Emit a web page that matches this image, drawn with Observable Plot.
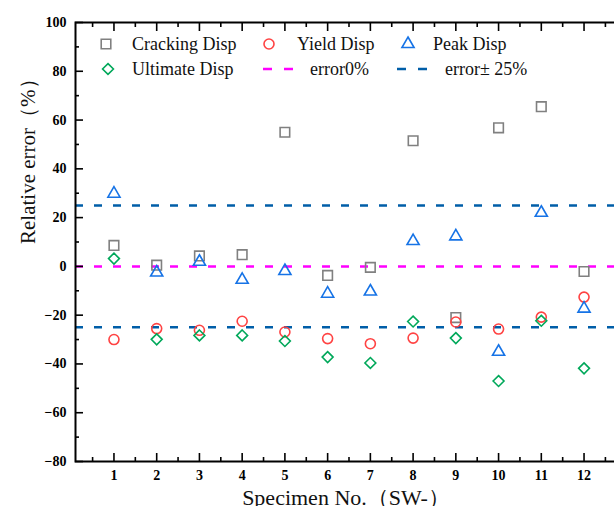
<!DOCTYPE html>
<html><head><meta charset="utf-8">
<script src="https://cdn.jsdelivr.net/npm/d3@7"></script>
<script src="https://cdn.jsdelivr.net/npm/@observablehq/plot@0.6"></script>
<style>
body{margin:0;background:#fff;overflow:hidden;}
#wrap{position:relative;width:614px;height:506px;overflow:hidden;background:#fff;}
#wrap svg{max-width:none !important;}
#legend{position:absolute;left:0;top:0;}
</style></head>
<body><div id="wrap"></div>
<script>
// ---- data ----
const specimens = [1,2,3,4,5,6,7,8,9,10,11,12];
const crackingDisp = [8.6,0.5,4.3,4.8,55,-3.7,-0.4,51.5,-21,56.8,65.5,-2.1];
const yieldDisp    = [-30,-25.5,-26.2,-22.5,-26.9,-29.6,-31.7,-29.4,-22.8,-25.7,-20.8,-12.6];
const peakDisp     = [29.8,-2.5,1.9,-5.5,-1.9,-11.2,-10.3,10.4,12.3,-35,22,-17.3];
const ultimateDisp = [3.2,-29.9,-28.3,-28.3,-30.6,-37.2,-39.6,-22.6,-29.4,-47,-22.3,-41.8];
const seriesNames  = ["Cracking Disp","Yield Disp","Peak Disp","Ultimate Disp"];
const zeroLine = [0];
const bandLines = [25,-25];
const lineNames = ["error0%","error\u00b1 25%"];
const yMajor = [-80,-60,-40,-20,0,20,40,60,80,100];
const yMinor = [-70,-50,-30,-10,10,30,50,70,90];
const xMinor = [0.5,1.5,2.5,3.5,4.5,5.5,6.5,7.5,8.5,9.5,10.5,11.5,12.5];
const xTitle = "Specimen No.\uff08SW-\uff09";
const yTitle = "Relative error\uff08%\uff09";

// ---- styles ----
const styles = {
  "Cracking Disp": {stroke:"#808080", symbol:"square",   r:5.4},
  "Yield Disp":    {stroke:"#ff4343", symbol:"circle",   r:5},
  "Peak Disp":     {stroke:"#1673e6", symbol:"triangle", r:4.5},
  "Ultimate Disp": {stroke:"#00a85a", symbol:"diamond2", r:4.9}
};
const magenta = "#ff00ff", dashBlue = "#005ea8";
const dash = "8,11";

const allSeries = [crackingDisp, yieldDisp, peakDisp, ultimateDisp];
const table = [];
seriesNames.forEach((name, si) => specimens.forEach((s, i) => table.push({series:name, x:s, y:allSeries[si][i]})));

const tickStyle = {stroke:"#000", strokeWidth:1.6, tickFormat:() => "", label:null};
const numFont = {fontWeight:"bold", fontSize:14, fontFamily:"Liberation Serif", fill:"#000"};

const dotMarks = seriesNames.map(name => Plot.dot(table.filter(d => d.series === name), {
  x:"x", y:"y", r:styles[name].r, symbol:styles[name].symbol,
  stroke:styles[name].stroke, strokeWidth:1.6, fill:"none"
}));

const chart = Plot.plot({
  width:625, height:506,
  marginLeft:75, marginRight:3, marginTop:22, marginBottom:45,
  style:{fontFamily:"Liberation Serif", background:"transparent", overflow:"visible", maxWidth:"none"},
  x:{domain:[0.1,12.9], axis:null},
  y:{domain:[-80,100], axis:null},
  marks:[
    Plot.ruleY(zeroLine, {y:d=>d, stroke:magenta, strokeWidth:2.5, strokeDasharray:dash}),
    Plot.ruleY(bandLines, {y:d=>d, stroke:dashBlue, strokeWidth:2.5, strokeDasharray:dash}),
    ...dotMarks,
    Plot.frame({stroke:"#000", strokeWidth:2}),
    Plot.axisY(yMajor, {anchor:"left", tickSize:-8, ...tickStyle}),
    Plot.axisY(yMinor, {anchor:"left", tickSize:-4, ...tickStyle}),
    Plot.axisY(yMajor, {anchor:"right", tickSize:-8, ...tickStyle}),
    Plot.axisY(yMinor, {anchor:"right", tickSize:-4, ...tickStyle}),
    Plot.axisX(specimens, {anchor:"bottom", tickSize:-8, ...tickStyle}),
    Plot.axisX(xMinor, {anchor:"bottom", tickSize:-4, ...tickStyle}),
    Plot.axisX(specimens, {anchor:"top", tickSize:-8, ...tickStyle}),
    Plot.axisX(xMinor, {anchor:"top", tickSize:-4, ...tickStyle}),
    Plot.axisY(yMajor, {anchor:"left", tickSize:0, tickPadding:9, label:null, ...numFont}),
    Plot.axisX(specimens, {anchor:"bottom", tickSize:0, tickPadding:9, label:null, ...numFont}),
    Plot.text([yTitle], {frameAnchor:"left", dx:-47, dy:2, rotate:-90, fontSize:21, fill:"#111", fontFamily:"Liberation Serif"}),
    Plot.text([xTitle], {frameAnchor:"bottom", dx:-3, dy:43, fontSize:22, fill:"#111", fontFamily:"Liberation Serif"})
  ]
});
document.getElementById("wrap").appendChild(chart);

// ---- legend (inside plot area) ----
const legendItems = [
  {kind:"dot", name:seriesNames[0], sx:106, tx:132, y:44},
  {kind:"dot", name:seriesNames[1], sx:269, tx:297, y:44},
  {kind:"dot", name:seriesNames[2], sx:408, tx:433, y:44},
  {kind:"dot", name:seriesNames[3], sx:108, tx:132, y:69},
  {kind:"line", name:lineNames[0], color:magenta, sx:263, tx:310, y:69},
  {kind:"line", name:lineNames[1], color:dashBlue, sx:397, tx:445, y:69}
];
const svg = d3.select("#wrap").append("svg").attr("id","legend").attr("width",614).attr("height",100);
const symMap = {square:d3.symbolSquare, circle:d3.symbolCircle, triangle:d3.symbolTriangle, diamond2:d3.symbolDiamond2};
legendItems.forEach(it => {
  if (it.kind === "dot") {
    const st = styles[it.name];
    svg.append("path")
      .attr("d", d3.symbol(symMap[st.symbol], Math.PI*st.r*st.r)())
      .attr("transform", `translate(${it.sx},${it.y})`)
      .attr("fill","none").attr("stroke", st.stroke).attr("stroke-width",1.6);
  } else {
    svg.append("line").attr("x1", it.sx).attr("x2", it.sx+30).attr("y1", it.y).attr("y2", it.y)
      .attr("stroke", it.color).attr("stroke-width",2.5).attr("stroke-dasharray","9,12");
  }
  svg.append("text").attr("x", it.tx).attr("y", it.y).attr("dy","0.35em")
    .attr("font-family","Liberation Serif").attr("font-size",18).attr("fill","#111").text(it.name);
});
</script>
</body></html>
